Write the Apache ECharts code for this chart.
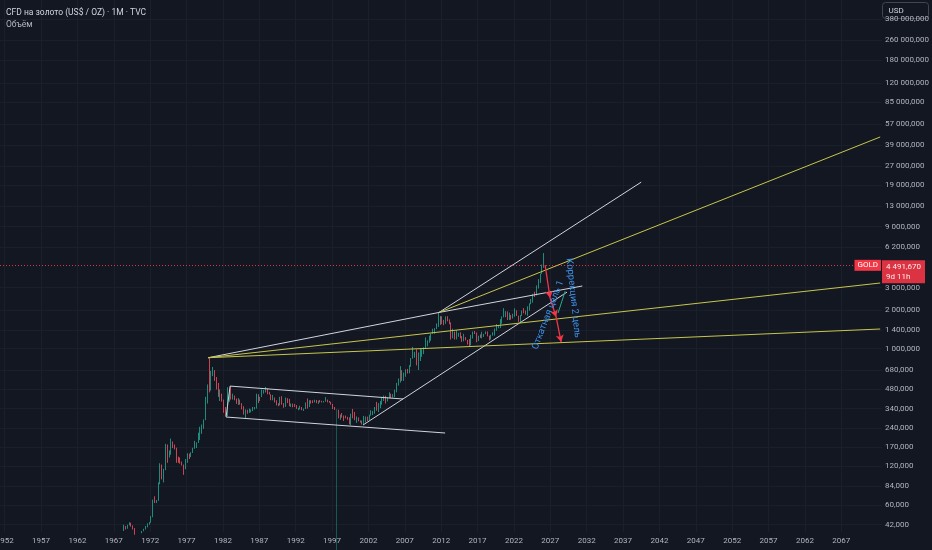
<!DOCTYPE html>
<html><head><meta charset="utf-8">
<script src="https://cdn.jsdelivr.net/npm/echarts@6/dist/echarts.min.js"></script>
<style>html,body{margin:0;padding:0;background:#131722;}#c{width:932px;height:550px;}</style>
</head><body><div id="c"></div>
<script>
// ---- data: quarterly OHLC of gold, 1968Q2 .. 2026Q1 ----
const firstQuarter = '1968Q2';
const lastQuarter = '2026Q1';
const opens = [
 38,40.5,39.5,
 41.5,43,41,39, 35.2,35.5,35.8,36.2, 37.4,38.8,40.1,42.6, 43.6,48.4,65,64.9, 64.9,89,120,101,
 112,172,142,153, 187,177,166,142, 140,129,123,114, 135,148,143,154, 165,180,183,217, 226,240,277,397,
 512,494,653,666, 589,500,423,428, 397,320,315,397, 456,415,416,403, 382,394,374,342, 309,330,317,325,
 327,340,345,423, 391,419,447,459, 487,457,437,397, 410,386,373,367, 401,368,352,408, 386,356,367,354,
 353,341,343,349, 333,338,378,355, 391,389,386,395, 383,391,387,384, 387,396,382,379, 369,349,324,332,
 290,301,296,294, 288,280,261,299, 290,278,288,273, 273,258,270,293, 279,303,318,323, 347,335,346,388,
 416,426,394,416, 438,428,437,473, 517,583,614,599, 632,663,650,743, 836,916,928,871, 882,924,927,1007,
 1096,1113,1244,1307, 1420,1439,1500,1624, 1565,1668,1604,1772, 1675,1596,1234,1327, 1202,1284,1327,1210,
 1183,1183,1172,1115, 1061,1234,1321,1316, 1151,1248,1241,1280, 1303,1325,1252,1192, 1282,1292,1409,1472,
 1517,1577,1781,1886, 1898,1708,1770,1757, 1829,1937,1807,1660, 1824,1969,1919,1849, 2063,2230,2327,2634,
 2625,3124,3303,3858,
 4320
];
const highs = [
 42,41,42,
 43.8,43.5,41.5,39.5, 35.8,36,36.5,37.5, 39,41,43,44, 49,66,70,65.5, 90,127,124,115,
 180,178,160,198, 188,178,168,143, 141,131,124,137, 152,151,155,168, 190,185,220,245, 255,280,420,525,
 850,670,720,680, 600,540,480,445, 400,350,500,480, 510,445,430,408, 410,400,375,355, 335,333,340,335,
 350,350,445,440, 420,480,475,502, 488,460,440,435, 415,395,375,420, 425,375,415,410, 405,372,372,370,
 362,345,358,350, 340,380,408,395, 395,395,399,397, 392,397,391,390, 418,400,390,384, 370,350,337,333,
 305,314,300,300, 293,290,310,338, 320,295,290,275, 274,298,295,294, 305,330,326,350, 384,375,390,418,
 430,428,418,456, 445,441,478,540, 585,730,680,650, 690,695,745,845, 1033,945,988,935, 1007,990,1025,1226,
 1162,1266,1310,1432, 1448,1577,1921,1802, 1792,1680,1790,1796, 1696,1605,1434,1361, 1392,1332,1345,1255,
 1308,1232,1172,1191, 1283,1362,1375,1338, 1264,1295,1357,1306, 1366,1365,1265,1285, 1346,1439,1557,1525,
 1703,1790,2075,1966, 1959,1916,1834,1877, 2070,1998,1814,1833, 1990,2081,1987,2146, 2265,2450,2685,2790,
 3128,3500,3870,4550,
 5600
];
const lows = [
 37.5,38.5,39,
 41.5,40.5,38.5,35, 34.8,35.2,35.5,36, 37.3,38.5,40,42, 43.5,48,62,62, 64.5,87,95,90,
 112,128,141,148, 167,163,128,128, 126,122,103,114, 128,137,142,153, 165,167,183,193, 216,236,276,372,
 455,470,610,560, 480,420,390,385, 315,296,297,385, 400,400,395,370, 363,365,335,305, 285,310,315,318,
 325,335,340,375, 390,418,445,455, 440,438,395,395, 380,360,355,360, 365,345,350,375, 355,350,348,350,
 338,330,335,330, 326,337,340,350, 372,375,380,375, 370,380,380,380, 385,380,378,365, 337,332,1,285,
 278,289,272,285, 278,256,252,285, 276,263,270,264, 255,255,265,272, 277,300,302,310, 327,319,342,365,
 390,372,387,410, 411,414,418,456, 515,543,560,560, 603,640,642,723, 836,850,740,681, 801,864,908,1003,
 1044,1113,1155,1307, 1308,1422,1480,1534, 1563,1526,1565,1636, 1555,1180,1208,1180, 1182,1240,1206,1131,
 1142,1162,1077,1046, 1061,1200,1302,1123, 1147,1214,1205,1236, 1300,1249,1160,1180, 1266,1266,1381,1445,
 1451,1568,1757,1765, 1677,1677,1687,1721, 1780,1805,1615,1617, 1804,1893,1846,1810, 1984,2228,2293,2537,
 2614,2957,3268,3850,
 4300
];
const closes = [
 40.5,39.5,41.5,
 43,41,39,35.2, 35.5,35.8,36.2,37.4, 38.8,40.1,42.6,43.6, 48.4,65,64.9,64.9, 89,120,101,112,
 172,142,153,187, 177,166,142,140, 129,123,114,135, 148,143,154,165, 180,183,217,226, 240,277,397,512,
 494,653,666,589, 500,423,428,397, 320,315,397,456, 415,416,403,382, 394,374,342,309, 330,317,325,327,
 340,345,423,391, 419,447,459,487, 457,437,397,410, 386,373,367,401, 368,352,408,386, 356,367,354,353,
 341,343,349,333, 338,378,355,391, 389,386,395,383, 391,387,384,387, 396,382,379,369, 349,334,332,290,
 301,296,294,288, 280,261,299,290, 278,288,273,273, 258,270,293,279, 303,318,323,347, 335,346,388,416,
 426,394,416,438, 428,437,473,517, 583,614,599,632, 663,650,743,836, 916,928,871,882, 924,927,1007,1096,
 1113,1244,1307,1420, 1439,1500,1624,1565, 1668,1604,1772,1675, 1596,1234,1327,1202, 1284,1327,1210,1183,
 1183,1172,1115,1061, 1234,1321,1316,1151, 1248,1241,1280,1303, 1325,1252,1192,1282, 1292,1409,1472,1517,
 1577,1781,1886,1898, 1708,1770,1757,1829, 1937,1807,1660,1824, 1969,1919,1849,2063, 2230,2327,2634,2625,
 3124,3303,3858,4320,
 4491.67
];
const lastPrice = 4491.67;
const timeLeft = '9d 11h';
const yTicks = [42,60,84,120,170,240,340,480,680,1000,1400,2000,3000,6200,9000,13000,19000,27000,39000,57000,85000,120000,180000,260000,380000];
const xTicks = [1952,1957,1962,1967,1972,1977,1982,1987,1992,1997,2002,2007,2012,2017,2022,2027,2032,2037,2042,2047,2052,2057,2062,2067];

// ---- drawings (data coordinates: [year, price]) ----
const whiteLines = [
 [[1979.95,850],[2011.7,1921]],
 [[2011.7,1921],[2039.5,20100]],
 [[2011.7,1921],[2031.4,3094]],
 [[2001.26,253],[2029.3,2773]],
 [[1982.98,510],[2006.76,404]],
 [[1982.98,510],[1982.43,292]],
 [[1982.43,292],[2012.54,219]]
];
const yellowLines = [
 [[2011.7,1921],[2072.35,45350]],
 [[1979.95,850],[2072.35,3266]],
 [[1979.95,850],[2072.35,1426]]
];
const arrowPath = [[2026.29,4500],[2026.97,2494],[2027.8,1771],[2028.49,1128]];
const greenLine = [[2029.04,2818],[2028.07,1903]];
const notes = [
 {text:'Откатная цель 1', at:[2026.7,1837], angle:69},
 {text:'Коррекция 2 цель', at:[2030.14,2494], angle:-84}
];

// ---- build ----
const toY = p => Math.log10(p);
function quarterList(a, b){
  const out=[]; let y=+a.slice(0,4), q=+a.slice(5);
  const ey=+b.slice(0,4), eq=+b.slice(5);
  while(y<ey || (y===ey && q<=eq)){ out.push(y+'Q'+q); q++; if(q>4){q=1;y++;} }
  return out;
}
const quarters = quarterList(firstQuarter, lastQuarter);
const qx = q => +q.slice(0,4) + (+q.slice(5)-1)*0.25 + 0.125;
const candleData = quarters.map((q,i)=>{
  const v = [qx(q), toY(opens[i]), toY(closes[i]), toY(lows[i]), toY(highs[i])];
  // the bad-tick candle (feed glitch) is drawn dimmer, as in the source
  return lows[i] < 10 ? {value:v, itemStyle:{opacity:0.55}} : v;
});
const groupDigits = n => String(n).replace(/\B(?=(\d{3})+(?!\d))/g,' ');
const fmtPrice = p => { const [a,b] = p.toFixed(3).split('.'); return groupDigits(+a)+','+b; };

const X_MIN = 1951.35, X_MAX = 2072.6;
const mlData = [];
whiteLines.forEach(([a,b])=>mlData.push([{coord:[a[0],toY(a[1])], lineStyle:{color:'#d1d4dc',width:1,type:'solid'}},{coord:[b[0],toY(b[1])]}]));
yellowLines.forEach(([a,b])=>mlData.push([{coord:[a[0],toY(a[1])], lineStyle:{color:'#c8c64a',width:1,type:'solid'}},{coord:[b[0],toY(b[1])]}]));
for(let i=0;i<arrowPath.length-1;i++){
  const a=arrowPath[i], b=arrowPath[i+1];
  mlData.push([{coord:[a[0],toY(a[1])], symbol:'none', lineStyle:{color:'#f23645',width:1.3,type:'solid'}},{coord:[b[0],toY(b[1])], symbol:'arrow', symbolSize:[6,7]}]);
}
mlData.push([{coord:[greenLine[0][0],toY(greenLine[0][1])], lineStyle:{color:'#22ab94',width:1,type:'solid'}},{coord:[greenLine[1][0],toY(greenLine[1][1])]}]);
mlData.push({yAxis:toY(lastPrice), lineStyle:{color:'#f23645',width:1,type:[1,2],opacity:0.9},
  label:{show:true, position:'end', distance:0, formatter:fmtPrice(lastPrice)+'\n'+timeLeft, backgroundColor:'#f23645', color:'#ffffff', fontSize:8, lineHeight:10, padding:[2,4,1,4], align:'left', offset:[0,6]}});

const chart = echarts.init(document.getElementById('c'));
chart.setOption({
  backgroundColor:'#131722',
  animation:false,
  textStyle:{fontFamily:'Roboto, "Noto Sans", sans-serif'},
  title:{text:'CFD на золото (US$ / OZ) · 1M · TVC', subtext:'Объём', left:1, top:3, itemGap:3,
    textStyle:{color:'#d1d4dc', fontSize:8.5, fontWeight:'normal'}, subtextStyle:{color:'#b2b5be', fontSize:8.5}},
  grid:{left:0, right:50, top:0, bottom:18, outerBoundsMode:'none', containLabel:false},
  xAxis:{type:'value', min:X_MIN, max:X_MAX,
    axisLine:{show:false}, axisTick:{show:false, customValues:xTicks},
    splitLine:{show:true, lineStyle:{color:'#1b1f2a', width:1}},
    axisLabel:{customValues:xTicks, color:'#b2b5be', fontSize:8, margin:5, formatter:v=>String(Math.round(v))}},
  yAxis:{type:'value', position:'right', min:toY(36.8), max:toY(535000),
    axisLine:{show:false}, axisTick:{show:false, customValues:yTicks.map(toY)},
    splitLine:{show:true, lineStyle:{color:'#1b1f2a', width:1}},
    axisLabel:{customValues:yTicks.map(toY), color:'#b2b5be', fontSize:8, margin:3, align:'left',
      formatter:v=>groupDigits(Math.round(Math.pow(10,v)))+',000'}},
  series:[{
    type:'candlestick', clip:true, barWidth:1.2,
    encode:{x:0, y:[1,2,3,4]},
    data:candleData,
    itemStyle:{color:'#22ab94', color0:'#f7525f', borderColor:'#22ab94', borderColor0:'#f7525f', borderWidth:0.8},
    markLine:{silent:true, symbol:['none','none'], label:{show:false}, emphasis:{disabled:true}, animation:false, data:mlData},
    markPoint:{silent:true, symbol:'circle', symbolSize:0, animation:false, data:[
      ...notes.map(n=>({coord:[n.at[0],toY(n.at[1])], label:{show:true, formatter:n.text, rotate:n.angle, position:'inside', color:'#3d8fe6', fontSize:9.5}})),
      {coord:[X_MAX,toY(lastPrice)], label:{show:true, position:'left', distance:1, formatter:'GOLD', backgroundColor:'#f23645', color:'#ffffff', fontSize:8, padding:[2,3,1,3]}}
    ]}
  }],
  graphic:[{type:'group', right:3, top:2, z:100, children:[
    {type:'rect', shape:{x:0,y:0,width:46,height:16,r:3}, style:{fill:'#131722', stroke:'#434651', lineWidth:1}},
    {type:'text', x:6, y:4, style:{text:'USD', fill:'#d1d4dc', fontSize:8, fontFamily:'Roboto'}}
  ]}]
});
</script></body></html>
